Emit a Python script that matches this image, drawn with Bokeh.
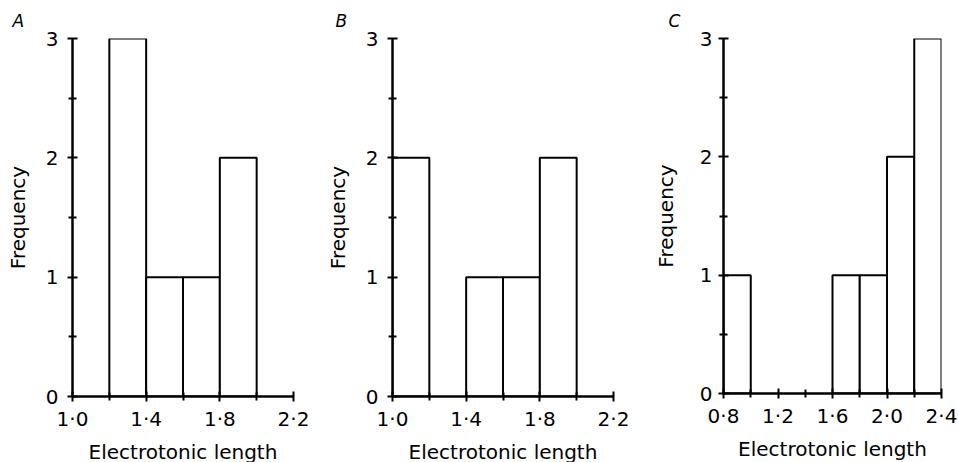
from bokeh.plotting import figure
from bokeh.layouts import row
from bokeh.models import Range1d, FixedTicker, CustomJSTickFormatter, Title
from bokeh.embed import file_html
from bokeh.resources import INLINE

# Panel A
a_left = [1.2, 1.4, 1.6, 1.8]
a_right = [1.4, 1.6, 1.8, 2.0]
a_freq = [3, 1, 1, 2]
# Panel B
b_left = [1.0, 1.4, 1.6, 1.8]
b_right = [1.2, 1.6, 1.8, 2.0]
b_freq = [2, 1, 1, 2]
# Panel C
c_left = [0.8, 1.6, 1.8, 2.0, 2.2]
c_right = [1.0, 1.8, 2.0, 2.2, 2.4]
c_freq = [1, 1, 1, 2, 3]

ab_xticks = [1.0, 1.4, 1.8, 2.2]
ab_xminor = [1.2, 1.6, 2.0]
c_xticks = [0.8, 1.2, 1.6, 2.0, 2.4]
c_xminor = [1.0, 1.4, 1.8, 2.2]
y_ticks = [0, 1, 2, 3]
y_minor = [0.5, 1.5, 2.5]

FONT = "DejaVu Sans"


def panel(letter, left, right, freq, xr, xticks, xminor, bl, br, bt, fw, fh,
          title_offset, ylab_standoff, ytick_standoff):
    p = figure(output_backend="svg", toolbar_location=None,
               frame_width=fw, frame_height=fh,
               min_border_left=bl, min_border_right=br, min_border_top=bt,
               min_border_bottom=462 - bt - fh,
               x_range=Range1d(*xr), y_range=Range1d(0, 3))
    p.outline_line_color = None
    p.grid.visible = False
    p.background_fill_color = "white"
    p.border_fill_color = "white"

    p.quad(left=left, right=right, top=freq, bottom=0,
           fill_color="white", line_color="black", line_width=2)

    p.title = Title(text=letter, align="left", offset=title_offset,
                    text_font=FONT, text_font_size="17px",
                    text_font_style="italic", text_color="black", standoff=16)

    for ax in (p.xaxis[0], p.yaxis[0]):
        ax.axis_line_width = 2.5
        ax.axis_line_color = "black"
        ax.major_tick_line_width = 2
        ax.minor_tick_line_width = 2
        ax.major_tick_line_color = "black"
        ax.minor_tick_line_color = "black"
        ax.major_tick_in = 5
        ax.major_tick_out = 5
        ax.minor_tick_in = 4
        ax.minor_tick_out = 4
        ax.major_label_text_font = FONT
        ax.major_label_text_font_size = "20px"
        ax.major_label_text_color = "black"
        ax.axis_label_text_font = FONT
        ax.axis_label_text_font_size = "20px"
        ax.axis_label_text_font_style = "normal"
        ax.axis_label_text_color = "black"

    xa = p.xaxis[0]
    xa.ticker = FixedTicker(ticks=xticks, minor_ticks=xminor)
    xa.formatter = CustomJSTickFormatter(
        code="return tick.toFixed(1).replace('.', '\u00b7');")
    xa.axis_label = "Electrotonic length"
    xa.major_label_standoff = 5
    xa.axis_label_standoff = 6

    ya = p.yaxis[0]
    ya.ticker = FixedTicker(ticks=y_ticks, minor_ticks=y_minor)
    ya.axis_label = "Frequency"
    ya.major_label_standoff = ytick_standoff
    ya.axis_label_standoff = ylab_standoff
    ya.major_label_orientation = "horizontal"
    return p


pA = panel("A", a_left, a_right, a_freq, (1.0, 2.2), ab_xticks, ab_xminor,
           72, 27, 35, 221, 358, -60, 13, 9)
pB = panel("B", b_left, b_right, b_freq, (1.0, 2.2), ab_xticks, ab_xminor,
           72, 27, 35, 221, 358, -57, 13, 9)
pC = panel("C", c_left, c_right, c_freq, (0.8, 2.4), c_xticks, c_xminor,
           83, 17, 38, 218, 355, -55, 19, 6)

layout = row(pA, pB, pC, spacing=0)
open("out.html", "w").write(file_html(layout, INLINE))
